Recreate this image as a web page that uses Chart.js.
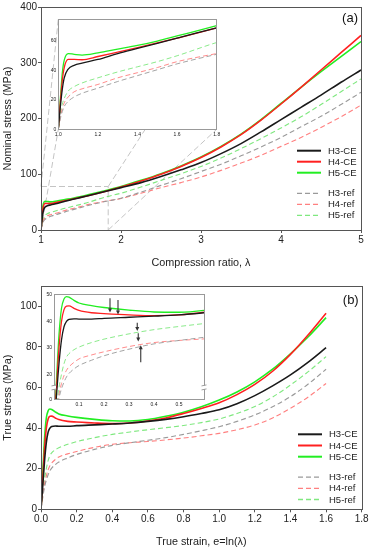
<!DOCTYPE html>
<html>
<head>
<meta charset="utf-8">
<script src="https://cdn.jsdelivr.net/npm/chart.js@4"></script>
<style>
  body { margin: 0; background: #fff; }
  #wrap { position: relative; width: 370px; height: 550px; }
  canvas { position: absolute; }
</style>
</head>
<body>
<div id="wrap">
  <canvas id="mainA" width="370" height="275" style="left:0;top:0"></canvas>
  <canvas id="insetA" width="180" height="128" style="left:44px;top:12px"></canvas>
  <canvas id="mainB" width="370" height="275" style="left:0;top:275px"></canvas>
  <canvas id="insetB" width="172" height="122" style="left:40px;top:287px"></canvas>
</div>
<script>
// ---- data (a): nominal stress vs compression ratio
const aLambda = [1, 1.01, 1.02, 1.03, 1.05, 1.08, 1.12, 1.2, 1.3, 1.4, 1.5, 1.6, 1.8, 2, 2.25, 2.5, 2.75, 3, 3.25, 3.5, 3.75, 4, 4.25, 4.5, 4.75, 5];
const aH3CE  = [0, 15, 27, 35, 41, 43.5, 45, 47.5, 51.5, 55, 58.5, 62, 69, 76, 85, 96, 108, 121, 137, 155, 176, 198, 220, 242, 265, 287];
const aH4CE  = [0, 18, 33, 42, 47.5, 47.5, 47.3, 49.5, 52.5, 55.5, 58.7, 62, 69, 77, 88, 100, 114, 130, 149, 171, 197, 226, 256, 287, 318, 349];
const aH5CE  = [0, 20, 38, 47, 51.5, 51, 50.5, 52, 54.5, 57, 60, 63.5, 70.5, 78, 89, 101, 115, 131, 150, 172, 198, 227, 256, 284, 311, 338];
const aH3ref = [0, 7, 12, 15.5, 19, 22, 24.5, 28, 32.5, 36.5, 40.5, 44.5, 51, 57, 68, 80, 92, 105, 118, 133, 149, 166, 185, 204, 225, 247];
const aH4ref = [0, 8, 14, 18, 22, 25.5, 27.5, 30.5, 35, 38.5, 42, 46, 51.5, 56.5, 66, 76, 85, 95, 107, 120, 134, 150, 166, 184, 203, 224];
const aH5ref = [0, 10, 17, 21, 26, 29, 31.5, 35, 39, 42.5, 46, 50, 59, 66, 77, 89, 101, 114, 129, 146, 164, 183, 203, 225, 248, 271];

// ---- data (b): true stress vs true strain
const bStrain = [0, 0.01, 0.02, 0.03, 0.04, 0.05, 0.06, 0.08, 0.1, 0.15, 0.2, 0.3, 0.4, 0.5, 0.6, 0.7, 0.8, 0.9, 1.0, 1.1, 1.2, 1.3, 1.4, 1.5, 1.6];
const bH3CE  = [0, 12, 24, 33, 38, 40, 40.8, 41, 40.9, 40.9, 41.2, 41.6, 42, 42.5, 43.3, 44.3, 45.6, 47.2, 49, 52, 56, 60.8, 66.2, 72.5, 79.6];
const bH4CE  = [0, 15, 30, 40, 44.5, 45.8, 45.9, 45, 44.2, 43.3, 43, 42.5, 42.2, 42.5, 43.5, 45, 47.2, 49.7, 52.5, 56.5, 61.5, 68, 76.3, 86, 96.6];
const bH5CE  = [0, 18, 35, 45, 48.5, 49.4, 49.2, 48, 47, 46, 45.3, 44.3, 43.6, 43.5, 44.2, 45.8, 47.8, 50.5, 53.8, 57.8, 62.8, 69, 76.6, 85, 94.4];
const bH3ref = [0, 6, 11, 14.5, 17, 19, 20.3, 22, 23.3, 25.3, 27, 29.5, 31.5, 32.8, 34, 35.3, 36.9, 38.7, 40.7, 43.3, 46.5, 50.5, 55.5, 61.7, 69];
const bH4ref = [0, 7, 12.5, 16.5, 19.5, 21.5, 22.8, 24.5, 25.8, 27.3, 28.5, 30.5, 32, 32.8, 33.4, 34.2, 35.1, 36.2, 37.4, 39.2, 41.5, 45, 49.8, 55.3, 62];
const bH5ref = [0, 8, 15, 20, 24, 26.5, 27.8, 29.3, 30.3, 32, 33.3, 35.3, 36.9, 38.1, 39.2, 40.2, 41.3, 42.7, 44.5, 47.2, 50.6, 55.3, 61.2, 67.8, 75.2];

const labels = ['H3-CE', 'H4-CE', 'H5-CE', 'H3-ref', 'H4-ref', 'H5-ref'];

// ticks
const aXTicks = [1, 2, 3, 4, 5];
const aYTicks = [0, 100, 200, 300, 400];
const bXTicks = [0, 0.2, 0.4, 0.6, 0.8, 1.0, 1.2, 1.4, 1.6, 1.8];
const bYTicks = [0, 20, 40, 60, 80, 100];
const aInsetXTicks = [1.0, 1.2, 1.4, 1.6, 1.8];
const aInsetYTicks = [0, 20, 40, 60];
const bInsetXTicks = [0.1, 0.2, 0.3, 0.4, 0.5];
const bInsetYTicks = [10.5, 20, 30, 40, 50];
const bInsetYLabels = ['0', '20', '30', '40', '50'];

// zoomed region of (a): lambda from/to, stress from/to
const zoomBox = [1, 1.84, 0, 78];
// arrows in inset (b): strain, stress from, stress to
const bArrows = [
  [0.224, 48.8, 43.4],
  [0.256, 48.1, 42.6],
  [0.333, 39.5, 36.4],
  [0.337, 35.5, 32.4],
  [0.347, 24.5, 31.0]
];

// styles
const colors = ['#1a1a1a', '#ff2020', '#22ee22', '#9a9a9a', '#ff8080', '#7fe87f'];
const FONT = "Arial, 'Liberation Sans', sans-serif";

function makeSets(xs, series, w) {
  return series.map((vals, i) => ({
    label: labels[i],
    data: xs.map((x, j) => ({ x: x, y: vals[j] })),
    borderColor: colors[i],
    borderWidth: i < 3 ? w : w * 0.7,
    borderDash: i < 3 ? [] : [5, 3],
    pointRadius: 0,
    cubicInterpolationMode: 'monotone',
    fill: false
  }));
}

const frame = {
  id: 'frame',
  beforeDraw(chart, args, o) {
    if (!o.fill) return;
    const a = chart.chartArea, ctx = chart.ctx;
    ctx.save();
    ctx.fillStyle = '#fff';
    ctx.fillRect(a.left, a.top, a.right - a.left, a.bottom - a.top);
    ctx.restore();
  },
  afterDraw(chart, args, o) {
    const a = chart.chartArea, ctx = chart.ctx;
    ctx.save();
    ctx.strokeStyle = o.color || '#555';
    ctx.lineWidth = 1;
    ctx.strokeRect(Math.round(a.left) + 0.5, Math.round(a.top) + 0.5, Math.round(a.right - a.left), Math.round(a.bottom - a.top));
    ctx.restore();
  }
};

const sideLegend = {
  id: 'sideLegend',
  afterDraw(chart, args, o) {
    if (!o.x) return;
    const ctx = chart.ctx;
    ctx.save();
    ctx.font = '9.5px ' + FONT;
    ctx.textBaseline = 'middle';
    chart.data.datasets.forEach((ds, i) => {
      const y = o.y + i * o.row + (i >= 3 ? o.gap : 0);
      ctx.strokeStyle = ds.borderColor;
      ctx.lineWidth = i < 3 ? 2 : 1.3;
      ctx.setLineDash(ds.borderDash);
      ctx.beginPath();
      ctx.moveTo(o.x, y);
      ctx.lineTo(o.x + 24, y);
      ctx.stroke();
      ctx.fillStyle = '#222';
      ctx.fillText(ds.label, o.x + 31, y + 0.5);
    });
    ctx.fillStyle = '#111';
    ctx.font = '13px ' + FONT;
    ctx.textAlign = 'right';
    ctx.fillText(o.tag, chart.chartArea.right - 3, chart.chartArea.top + o.tagY);
    ctx.restore();
  }
};

const zoomGuide = {
  id: 'zoomGuide',
  beforeDatasetsDraw(chart, args, o) {
    if (!o.inset) return;
    const xs = chart.scales.x, ys = chart.scales.y, ctx = chart.ctx;
    const ia = o.inset.chartArea;
    const bx0 = xs.getPixelForValue(zoomBox[0]), bx1 = xs.getPixelForValue(zoomBox[1]);
    const by0 = ys.getPixelForValue(zoomBox[2]), by1 = ys.getPixelForValue(zoomBox[3]);
    ctx.save();
    ctx.strokeStyle = '#c4c4c4';
    ctx.lineWidth = 1;
    ctx.setLineDash([6, 3]);
    ctx.beginPath();
    ctx.moveTo(bx0, by1); ctx.lineTo(bx1, by1); ctx.lineTo(bx1, by0);
    ctx.moveTo(bx0, by1); ctx.lineTo(ia.left + o.dx, ia.top + o.dy);
    ctx.moveTo(bx1, by1); ctx.lineTo(ia.right + o.dx, ia.top + o.dy);
    ctx.moveTo(bx1, by0); ctx.lineTo(ia.right + o.dx, ia.bottom + o.dy);
    ctx.moveTo(bx0, by0); ctx.lineTo(ia.left + o.dx, ia.bottom + o.dy);
    ctx.stroke();
    ctx.restore();
  }
};

const insetMarks = {
  id: 'insetMarks',
  afterDraw(chart, args, o) {
    if (!o.arrows) return;
    const xs = chart.scales.x, ys = chart.scales.y, ctx = chart.ctx, a = chart.chartArea;
    ctx.save();
    // axis break marks
    const yb = ys.getPixelForValue(o.breakAt);
    [a.left, a.right].forEach(x => {
      ctx.fillStyle = '#fff';
      ctx.fillRect(x - 2, yb - 2, 4, 4);
      ctx.strokeStyle = '#888';
      ctx.lineWidth = 0.8;
      ctx.beginPath();
      ctx.moveTo(x - 2.5, yb - 1.5); ctx.lineTo(x + 2.5, yb - 2.5);
      ctx.moveTo(x - 2.5, yb + 2.5); ctx.lineTo(x + 2.5, yb + 1.5);
      ctx.stroke();
    });
    // arrows
    ctx.strokeStyle = '#333';
    ctx.fillStyle = '#333';
    ctx.lineWidth = 1.1;
    o.arrows.forEach(ar => {
      const x = xs.getPixelForValue(ar[0]);
      const y0 = ys.getPixelForValue(ar[1]), y1 = ys.getPixelForValue(ar[2]);
      const d = y1 > y0 ? 1 : -1;
      ctx.beginPath();
      ctx.moveTo(x, y0); ctx.lineTo(x, y1 - d * 2);
      ctx.stroke();
      ctx.beginPath();
      ctx.moveTo(x, y1); ctx.lineTo(x - 2, y1 - d * 4); ctx.lineTo(x + 2, y1 - d * 4);
      ctx.closePath();
      ctx.fill();
    });
    ctx.restore();
  }
};

function axis(cfg) {
  return {
    type: 'linear',
    min: cfg.min, max: cfg.max,
    afterBuildTicks: s => { s.ticks = cfg.ticks.map(v => ({ value: v })); },
    afterFit: s => { if (cfg.w) s.width = cfg.w; if (cfg.h) s.height = cfg.h; },
    ticks: {
      autoSkip: false, maxRotation: 0, color: '#222', padding: cfg.pad,
      font: { family: FONT, size: cfg.fs },
      callback: cfg.fmt
    },
    grid: { drawOnChartArea: false, drawTicks: cfg.tl > 0, tickLength: cfg.tl, color: cfg.gc || '#555' },
    border: { color: cfg.gc || '#555' },
    title: cfg.title ? {
      display: true, text: cfg.title, color: '#222',
      font: { family: FONT, size: 10.8 },
      padding: cfg.titlePad
    } : { display: false }
  };
}

function chartOpts(pad, xa, ya, plug) {
  return {
    responsive: false, animation: false,
    layout: { padding: pad },
    plugins: Object.assign({ legend: { display: false }, tooltip: { enabled: false } }, plug),
    scales: { x: axis(xa), y: axis(ya) }
  };
}

const plugs = [frame, sideLegend, zoomGuide, insetMarks];

// inset (a)
const insetA = new Chart(document.getElementById('insetA'), {
  type: 'line',
  data: { datasets: makeSets(aLambda, [aH3CE, aH4CE, aH5CE, aH3ref, aH4ref, aH5ref], 1.3) },
  options: chartOpts({ top: 7, right: 7.3, left: 0, bottom: 0 },
    { min: 1, max: 1.8, ticks: aInsetXTicks, fs: 5, pad: 2, tl: 0, h: 10.7, gc: '#999', fmt: v => v.toFixed(1) },
    { min: 0, max: 75, ticks: aInsetYTicks, fs: 5, pad: 2, tl: 0, w: 14.3, gc: '#999' },
    { frame: { fill: true, color: '#999' } }),
  plugins: plugs
});

// main (a)
new Chart(document.getElementById('mainA'), {
  type: 'line',
  data: { datasets: makeSets(aLambda, [aH3CE, aH4CE, aH5CE, aH3ref, aH4ref, aH5ref], 1.6) },
  options: chartOpts({ top: 7, right: 9, left: 0, bottom: 0 },
    { min: 1, max: 5, ticks: aXTicks, fs: 10, pad: 1, tl: 3, h: 45, title: 'Compression ratio, \u03bb', titlePad: { top: 0, bottom: 5.5 } },
    { min: 0, max: 400, ticks: aYTicks, fs: 10, pad: 1, tl: 3, w: 41, title: 'Nominal stress (MPa)', titlePad: { top: 2, bottom: 0 } },
    {
      frame: { color: '#555' },
      sideLegend: { x: 297, y: 150.7, row: 11, gap: 9.6, tag: '(a)', tagY: 11 },
      zoomGuide: { inset: insetA, dx: 44, dy: 12 }
    }),
  plugins: plugs
});

// inset (b)
new Chart(document.getElementById('insetB'), {
  type: 'line',
  data: { datasets: makeSets(bStrain, [bH3CE, bH4CE, bH5CE, bH3ref, bH4ref, bH5ref], 1.3) },
  options: chartOpts({ top: 7.3, right: 8, left: 0, bottom: 0 },
    { min: 0, max: 0.6, ticks: bInsetXTicks, fs: 5, pad: 2, tl: 0, h: 9.7, gc: '#999', fmt: v => v.toFixed(1) },
    { min: 10.5, max: 50.3, ticks: bInsetYTicks, fs: 5, pad: 2, tl: 0, w: 14, gc: '#999', fmt: (v, i) => bInsetYLabels[i] },
    { frame: { fill: true, color: '#999' }, insetMarks: { arrows: bArrows, breakAt: 15 } }),
  plugins: plugs
});

// main (b)
new Chart(document.getElementById('mainB'), {
  type: 'line',
  data: { datasets: makeSets(bStrain, [bH3CE, bH4CE, bH5CE, bH3ref, bH4ref, bH5ref], 1.6) },
  options: chartOpts({ top: 11, right: 8.3, left: 0, bottom: 0 },
    { min: 0, max: 1.8, ticks: bXTicks, fs: 10, pad: 1, tl: 3, h: 40.7, title: 'True strain, e=ln(\u03bb)', titlePad: { top: 0, bottom: 1.7 }, fmt: v => v.toFixed(1) },
    { min: 0, max: 110, ticks: bYTicks, fs: 10, pad: 1, tl: 3, w: 41, title: 'True stress (MPa)', titlePad: { top: 2, bottom: 0 } },
    {
      frame: { color: '#555' },
      sideLegend: { x: 298, y: 159.3, row: 11.2, gap: 9.2, tag: '(b)', tagY: 14 }
    }),
  plugins: plugs
});
</script>
</body>
</html>
